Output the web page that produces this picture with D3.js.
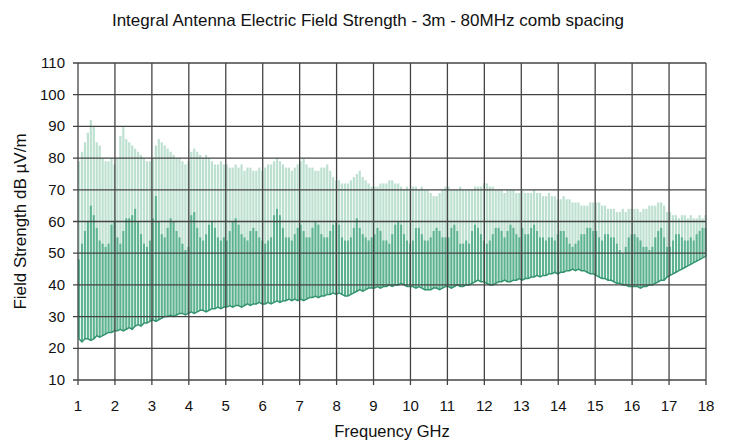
<!DOCTYPE html>
<html>
<head>
<meta charset="utf-8">
<script src="https://cdn.jsdelivr.net/npm/d3@7"></script>
<style>
  html, body { margin: 0; padding: 0; background: #fff; }
  svg { display: block; font-family: "Liberation Sans", Arial, sans-serif; }
</style>
</head>
<body>
<div id="chart"></div>
<script>
// comb lines every 80 MHz from 1 GHz (one row per GHz)
const combStart = 1.0, combStep = 0.08;

// top of each comb line (light trace), dB µV/m
const peakLevels = [
  79, 82, 85, 88, 92, 90, 85, 84, 80, 79, 79, 80, 78,
  80, 87, 90, 86, 85, 84, 83, 82, 81, 80, 79, 79,
  80, 84, 86, 85, 84, 83, 82, 81, 80, 80, 79, 78, 79,
  82, 83, 82, 81, 80, 81, 80, 79, 78, 78, 79, 78,
  78, 77, 77, 78, 77, 78, 76, 77, 77, 76, 76, 77, 76,
  77, 78, 78, 79, 80, 79, 78, 77, 77, 76, 77, 78,
  79, 80, 78, 77, 77, 76, 76, 77, 77, 78, 76, 74, 73,
  73, 72, 72, 72, 73, 74, 75, 76, 74, 73, 72, 71,
  71, 71, 72, 72, 72, 73, 73, 72, 72, 71, 70, 71, 70,
  71, 71, 70, 71, 70, 70, 69, 68, 68, 69, 70, 71,
  71, 70, 70, 70, 71, 70, 70, 70, 70, 71, 71, 71, 72,
  72, 71, 71, 70, 70, 70, 69, 70, 70, 70, 69, 69,
  70, 69, 69, 69, 70, 69, 69, 68, 68, 69, 68, 68, 67,
  67, 68, 67, 67, 66, 66, 66, 65, 65, 65, 66, 66,
  66, 66, 65, 65, 64, 64, 64, 63, 63, 64, 63, 64, 64,
  64, 64, 63, 64, 64, 65, 65, 65, 66, 66, 65, 63,
  63, 62, 62, 61, 62, 62, 61, 62, 61, 61, 62, 61, 62
];

// top of the dense (dark) part of each line
const denseLevels = [
  48, 53, 57, 60, 65, 62, 58, 54, 53, 52, 53, 59, 60,
  55, 53, 57, 61, 61, 62, 64, 60, 56, 53, 52, 54,
  61, 68, 60, 56, 55, 58, 61, 60, 57, 55, 53, 51, 52,
  62, 63, 58, 55, 54, 56, 59, 60, 58, 55, 54, 55,
  54, 57, 60, 61, 59, 56, 55, 54, 57, 58, 57, 55, 54,
  53, 54, 55, 62, 64, 62, 58, 55, 55, 54, 56, 58,
  59, 57, 55, 55, 58, 60, 59, 56, 55, 55, 57, 59, 60,
  59, 55, 54, 54, 55, 58, 61, 58, 56, 55, 54, 55,
  56, 58, 57, 54, 54, 53, 56, 59, 60, 59, 56, 54, 53,
  54, 58, 58, 56, 54, 54, 55, 57, 58, 57, 55, 55,
  55, 58, 59, 57, 53, 53, 54, 53, 57, 59, 58, 56, 54,
  53, 54, 56, 58, 58, 57, 55, 57, 59, 58, 56, 55,
  58, 56, 56, 58, 59, 57, 55, 55, 54, 55, 55, 54, 56,
  57, 57, 55, 53, 52, 53, 54, 56, 56, 58, 58, 57,
  57, 55, 54, 56, 56, 55, 55, 53, 51, 50, 52, 55, 56,
  56, 55, 54, 52, 52, 51, 52, 55, 57, 58, 55, 52,
  52, 54, 56, 56, 55, 54, 54, 55, 54, 56, 57, 58, 58
];

// noise floor under each line
const floorLevels = [
  23, 22, 23, 23, 22.5, 23, 24, 23.5, 24, 24.5, 25, 25, 25.5,
  25.5, 26, 25.5, 26, 26.5, 26, 27, 27.5, 27, 28, 28, 28.5,
  29, 28.5, 29, 29.5, 30, 30, 30.5, 30, 30.5, 31, 31, 30.5, 31,
  31.5, 31, 31.5, 32, 32, 31.5, 32, 32.5, 32.5, 33, 32.5, 33,
  33, 33.5, 33, 33.5, 33.5, 33, 33.5, 34, 33.5, 34, 34, 34.5, 34,
  34, 34.5, 34, 34.5, 35, 34.5, 35, 35, 35.5, 35, 35.5, 35,
  35.5, 35, 35.5, 36, 36, 36.5, 36, 36.5, 36.5, 37, 37, 37.5, 37,
  37.5, 37, 36.5, 36.5, 37, 37.5, 38, 38.5, 38, 38.5, 39, 39,
  39, 39.5, 39, 39.5, 39.5, 40, 39.5, 40, 40, 40.5, 40, 39.5, 39.5,
  39.5, 39, 39.5, 39, 38.5, 38.5, 38.5, 39, 39, 38.5, 39, 39.5,
  39.5, 39, 39.5, 40, 39.5, 39.5, 40, 40, 40.5, 41, 41.5, 41, 41,
  40.5, 40, 40, 40.5, 41, 41, 41.5, 41, 41, 41.5, 41.5, 42,
  41.5, 42, 42, 42.5, 42.5, 43, 42.5, 43, 43, 43.5, 43.5, 44, 43.5,
  44, 44, 44.5, 44.5, 45, 44.5, 45, 44.5, 44.5, 44, 43.5, 43.5,
  43, 42.5, 42, 42, 41.5, 41.5, 41, 40.5, 40.5, 40, 40, 39.5, 39.5,
  39.5, 39.5, 39, 39.5, 39.5, 40, 40, 40.5, 41, 41.5, 41.5, 42.5,
  43, 43.5, 44, 44.5, 45, 45.5, 46, 46.5, 47, 47.5, 48, 48.5, 49
];

const freqTicks = d3.range(1, 19);
const levelTicks = d3.range(10, 111, 10);

const comb = peakLevels.map((p, i) => ({
  f: combStart + i * combStep,
  peak: p,
  dense: denseLevels[i],
  floor: floorLevels[i]
}));

const width = 731, height = 442;
const margin = { top: 63, right: 25, bottom: 62, left: 78 };
const innerW = width - margin.left - margin.right;
const innerH = height - margin.top - margin.bottom;

const svg = d3.select("#chart")
  .append("svg")
  .attr("width", width)
  .attr("height", height);

const g = svg.append("g")
  .attr("transform", `translate(${margin.left},${margin.top})`);

const x = d3.scaleLinear().domain([1, 18]).range([0, innerW]);
const y = d3.scaleLinear().domain([10, 110]).range([innerH, 0]);

// comb lines: pale full height, then dense lower part
g.selectAll(".tooth")
  .data(comb)
  .join("line")
  .attr("class", "tooth")
  .attr("x1", d => x(d.f) + 1).attr("x2", d => x(d.f) + 1)
  .attr("y1", d => y(d.floor)).attr("y2", d => y(d.peak))
  .attr("stroke", "#bde0d0")
  .attr("stroke-width", 2.2);

g.selectAll(".dense")
  .data(comb)
  .join("line")
  .attr("class", "dense")
  .attr("x1", d => x(d.f) + 1).attr("x2", d => x(d.f) + 1)
  .attr("y1", d => y(d.floor)).attr("y2", d => y(d.dense))
  .attr("stroke", "#5cb291")
  .attr("stroke-width", 2);

g.append("path")
  .datum(comb)
  .attr("fill", "none")
  .attr("stroke", "#33946f")
  .attr("stroke-width", 1.5)
  .attr("d", d3.line().x(d => x(d.f) + 1).y(d => y(d.floor)));

// grid
g.selectAll(".hgrid")
  .data(levelTicks)
  .join("line")
  .attr("x1", -5).attr("x2", innerW)
  .attr("y1", d => y(d)).attr("y2", d => y(d))
  .attr("stroke", "#444").attr("stroke-width", 1.3);

g.selectAll(".vgrid")
  .data(freqTicks)
  .join("line")
  .attr("x1", d => x(d)).attr("x2", d => x(d))
  .attr("y1", 0).attr("y2", innerH + 5)
  .attr("stroke", "#444").attr("stroke-width", 1.3);

// tick labels
g.selectAll(".ylab")
  .data(levelTicks)
  .join("text")
  .attr("x", -13)
  .attr("y", d => y(d) + 5)
  .attr("text-anchor", "end")
  .attr("font-size", 15)
  .attr("fill", "#111")
  .text(d => d);

g.selectAll(".xlab")
  .data(freqTicks)
  .join("text")
  .attr("x", d => x(d))
  .attr("y", innerH + 31)
  .attr("text-anchor", "middle")
  .attr("font-size", 15)
  .attr("fill", "#111")
  .text(d => d);

svg.append("text")
  .attr("x", 368).attr("y", 26)
  .attr("text-anchor", "middle")
  .attr("font-size", 17)
  .attr("fill", "#111")
  .text("Integral Antenna Electric Field Strength - 3m - 80MHz comb spacing");

svg.append("text")
  .attr("x", margin.left + innerW / 2).attr("y", 437)
  .attr("text-anchor", "middle")
  .attr("font-size", 16.5)
  .attr("fill", "#111")
  .text("Frequency GHz");

svg.append("text")
  .attr("transform", `translate(26,${margin.top + innerH / 2}) rotate(-90)`)
  .attr("text-anchor", "middle")
  .attr("font-size", 17)
  .attr("fill", "#111")
  .text("Field Strength dB µV/m");
</script>
</body>
</html>
